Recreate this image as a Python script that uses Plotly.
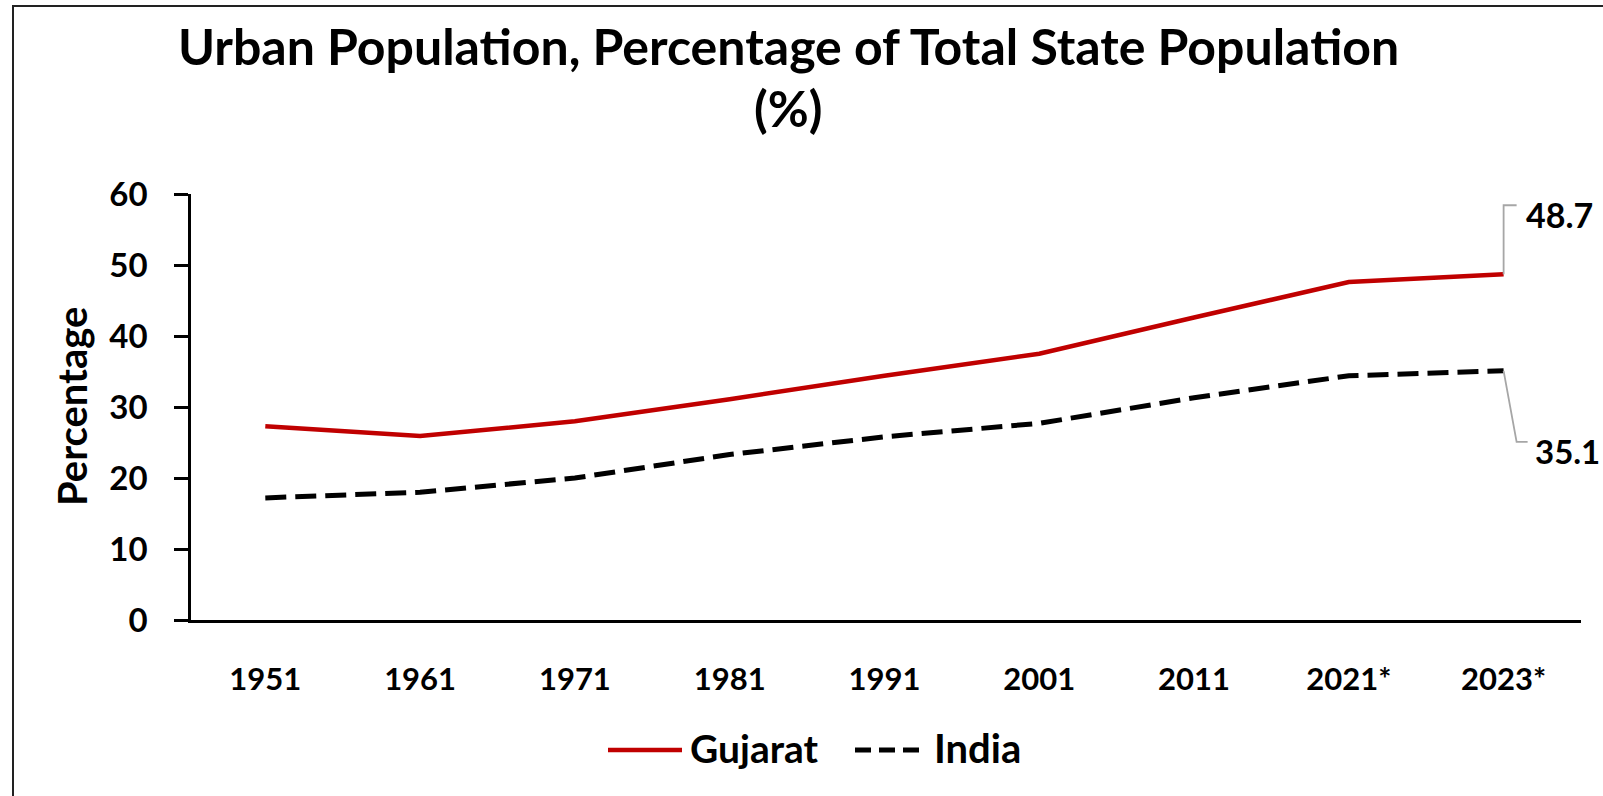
import plotly.graph_objects as go

years = ["1951", "1961", "1971", "1981", "1991", "2001", "2011", "2021*", "2023*"]
gujarat = [27.3, 25.9, 28.0, 31.1, 34.4, 37.5, 42.6, 47.6, 48.7]
india = [17.2, 18.0, 20.0, 23.3, 25.8, 27.7, 31.3, 34.4, 35.1]
y_ticks = [0, 10, 20, 30, 40, 50, 60]

FONT = "Lato"
W, H = 1603, 796
L, R, T, B = 191, 22, 194, 176
PW, PH = W - L - R, H - T - B


def px(x):
    return (x - L) / PW


def py(y):
    return (H - B - y) / PH


fig = go.Figure()
fig.add_trace(go.Scatter(x=years, y=gujarat, mode="lines", name="Gujarat",
                         line=dict(color="#C00000", width=4.5), showlegend=False))
fig.add_trace(go.Scatter(x=years, y=india, mode="lines", name="India",
                         line=dict(color="#000000", width=5, dash="21px,9px"), showlegend=False))

fig.update_layout(
    width=W, height=H,
    margin=dict(l=L, r=R, t=T, b=B),
    paper_bgcolor="white", plot_bgcolor="white",
    font=dict(family=FONT, color="black", size=30, weight="bold"),
)
fig.update_xaxes(type="category", range=[-0.48, 8.5], showline=True, linecolor="black",
                 linewidth=2.5, ticks="", showgrid=False, zeroline=False,
                 tickfont=dict(family=FONT, size=31, weight="bold"), ticklabelstandoff=30)
fig.update_yaxes(range=[0, 60], tickvals=y_ticks, showline=True, linecolor="black",
                 linewidth=2.5, ticks="outside", ticklen=14, tickwidth=2.5, tickcolor="black",
                 showgrid=False, zeroline=False,
                 tickfont=dict(family=FONT, size=33, weight="bold"), ticklabelstandoff=20)

ann = []
# title
ann.append(dict(text="Urban Population, Percentage of Total State Population", x=px(788), y=py(46),
                xref="paper", yref="paper", showarrow=False, xanchor="center", yanchor="middle",
                font=dict(family=FONT, size=50, weight="bold")))
ann.append(dict(text="(%)", x=px(788), y=py(108), xref="paper", yref="paper", showarrow=False,
                xanchor="center", yanchor="middle", font=dict(family=FONT, size=50, weight="bold")))
# y-axis title
ann.append(dict(text="Percentage", x=px(72), y=py(407), xref="paper", yref="paper", showarrow=False,
                textangle=-90, xanchor="center", yanchor="middle",
                font=dict(family=FONT, size=40, weight="bold")))
# data labels
ann.append(dict(text=f"{gujarat[-1]:.1f}", x=years[-1], y=gujarat[-1], xref="x", yref="y",
                showarrow=False, xanchor="left", yanchor="middle", xshift=20, yshift=60,
                font=dict(family=FONT, size=34, weight="bold")))
ann.append(dict(text=f"{india[-1]:.1f}", x=years[-1], y=india[-1], xref="x", yref="y",
                showarrow=False, xanchor="left", yanchor="middle", xshift=29, yshift=-80,
                font=dict(family=FONT, size=33, weight="bold")))
# legend text
ann.append(dict(text="Gujarat", x=px(688), y=py(748), xref="paper", yref="paper", showarrow=False,
                xanchor="left", yanchor="middle", font=dict(family=FONT, size=39, weight="bold")))
ann.append(dict(text="India", x=px(932), y=py(748), xref="paper", yref="paper", showarrow=False,
                xanchor="left", yanchor="middle", font=dict(family=FONT, size=40, weight="bold")))

shapes = []
# leader lines (pixel offsets from the last data points)
shapes.append(dict(type="path", xref="x", yref="y", xsizemode="pixel", ysizemode="pixel",
                   xanchor=years[-1], yanchor=gujarat[-1], path="M0,0 L0,69 L13,69",
                   line=dict(color="#A6A6A6", width=1.8)))
shapes.append(dict(type="path", xref="x", yref="y", xsizemode="pixel", ysizemode="pixel",
                   xanchor=years[-1], yanchor=india[-1], path="M0,0 L13,-71 L24,-71",
                   line=dict(color="#A6A6A6", width=1.8)))
# legend symbols
shapes.append(dict(type="line", xref="paper", yref="paper", x0=px(608), x1=px(682), y0=py(750), y1=py(750),
                   line=dict(color="#C00000", width=4.5)))
shapes.append(dict(type="line", xref="paper", yref="paper", x0=px(855), x1=px(920), y0=py(750), y1=py(750),
                   line=dict(color="#000000", width=5, dash="16px,8px")))
# outer frame
shapes.append(dict(type="rect", xref="paper", yref="paper", x0=px(13), x1=px(1700), y0=py(900), y1=py(6),
                   line=dict(color="#222222", width=2), layer="below"))

fig.update_layout(annotations=ann, shapes=shapes)
fig.write_html("out.html", config={"displayModeBar": False},
               post_script="document.body.style.margin='0';")
